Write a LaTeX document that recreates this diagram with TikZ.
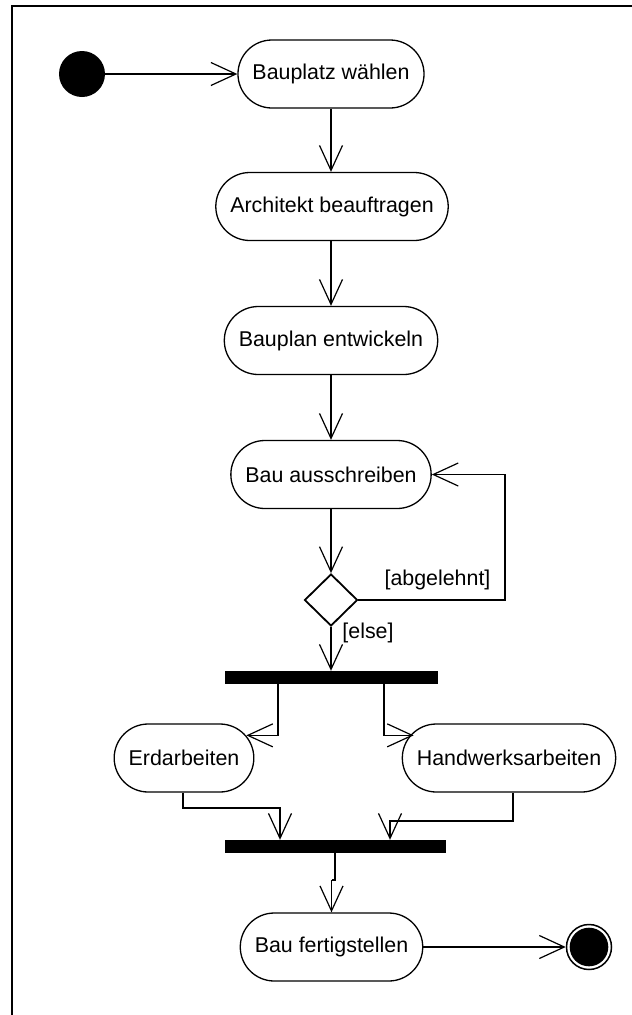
\documentclass[tikz,border=0pt]{standalone}
\usepackage{fontspec}
\setmainfont{Liberation Sans}
\usetikzlibrary{arrows.meta,shapes.geometric,calc}

\tikzset{
  every picture/.style={x=1pt,y=-1pt},
  flow/.style={line width=1.2pt,-{Straight Barb[length=25pt,width=23pt]}},
  plain/.style={line width=1.2pt},
  action/.style={draw,line width=1.3pt,rectangle,rounded corners=34pt,
    minimum height=68pt,inner xsep=14.5pt,inner ysep=0pt,
    font=\fontsize{21.4}{24}\selectfont},
  bar/.style={fill=black,draw=none,inner sep=0pt},
  decision/.style={draw,diamond,line width=1.8pt,inner sep=0pt,
    minimum width=53pt,minimum height=52pt},
  guard/.style={font=\fontsize{21.4}{24}\selectfont,inner sep=0pt},
  startnode/.style={circle,fill=black,minimum size=46pt,inner sep=0pt},
  endnode/.style={circle,draw,line width=1.5pt,minimum size=45pt,inner sep=0pt,
    path picture={\fill (path picture bounding box.center) circle (19.3pt);}}
}

\begin{document}
\begin{tikzpicture}
\useasboundingbox (0,0) rectangle (632,1015);
\clip (0,0) rectangle (632,1015);

% outer frame (runs past the right and bottom edges)
\draw[line width=2pt] (12,6) rectangle (700,1100);

% activities
\node[startnode] (start) at (82,74) {};
\node[action] (n1) at (331,74) {Bauplatz wählen};
\node[action] (n2) at (332,206.5) {Architekt beauftragen};
\node[action] (n3) at (331,340.5) {Bauplan entwickeln};
\node[action] (n4) at (331,474.5) {Bau ausschreiben};
\node[decision] (dec) at (331,600) {};
\node[bar,minimum width=213pt,minimum height=13pt] (fork) at (331.5,677.5) {};
\node[action] (erd) at (184,758) {Erdarbeiten};
\node[action] (hand) at (509,758) {Handwerksarbeiten};
\node[bar,minimum width=221pt,minimum height=13pt] (join) at (335.5,846.5) {};
\node[action] (fert) at (331.5,947) {Bau fertigstellen};
\node[endnode] (end) at (589,947) {};

% guards
\node[guard] (gabl) at (437.5,580) {[abgelehnt]};
\node[guard] (gelse) at (368,633) {[else]};

% control flow
\draw[flow] (start) -- (n1);
\draw[flow] (n1.south -| 331,0) -- (n2.north -| 331,0);
\draw[flow] (n2.south -| 331,0) -- (n3.north);
\draw[flow] (n3) -- (n4);
\draw[flow] (n4) -- (dec.north);
\draw[flow] (dec.east) -| (505,474.5) -- (n4.east);
\draw[flow] (dec.south) -- (fork.north -| dec.south);

% fork to the two parallel activities
\coordinate (erdin) at ($(erd.north east)+(-8.1,12)$);
\coordinate (handin) at ($(hand.north west)+(12,12)$);
\draw[flow] (fork.south -| 278,0) |- (erdin);
\draw[flow] (fork.south -| 384,0) |- (handin);

% join
\draw[flow] (erd.south -| 183,0) |- (280,808) -- (join.north -| 280,0);
\draw[flow] (hand.south -| 513,0) |- (390,821) -- (join.north -| 390,0);

% to the final activity and end
\draw[plain] (join.south -| 335,0) -- (335,880) -- (331.5,880);
\draw[flow] (331.5,880) -- (fert.north);
\draw[flow] (fert) -- (end);
\end{tikzpicture}
\end{document}
